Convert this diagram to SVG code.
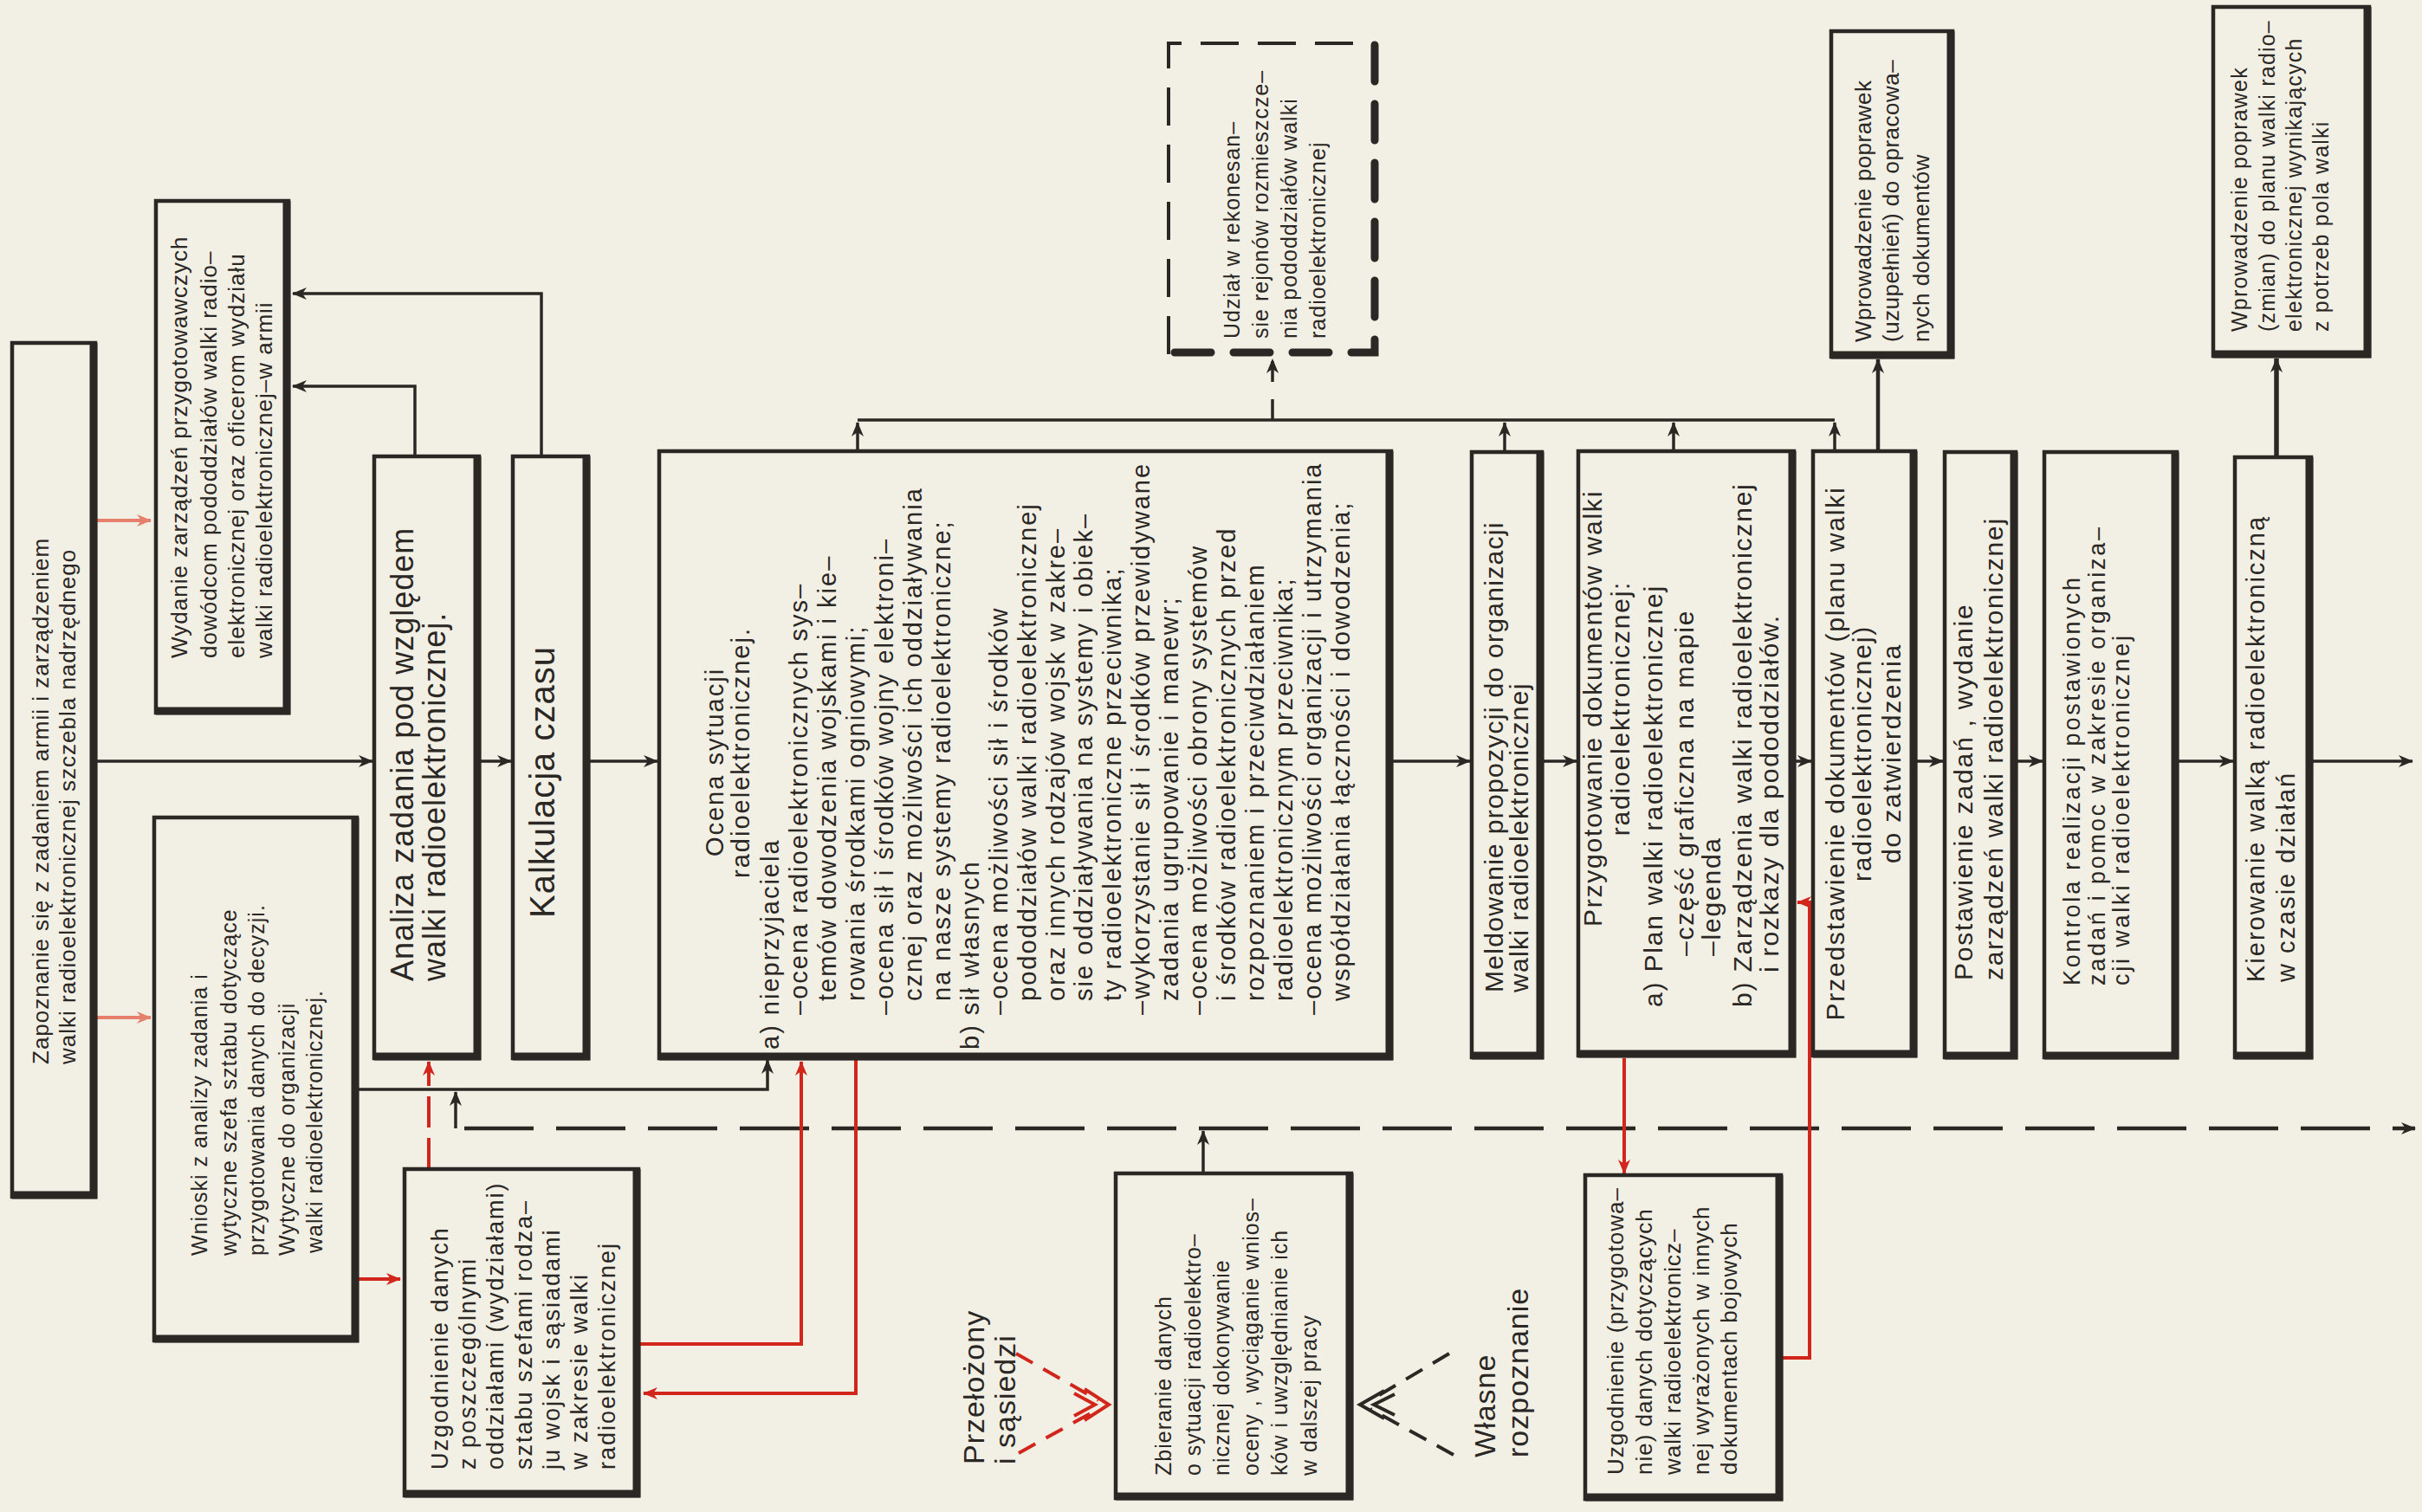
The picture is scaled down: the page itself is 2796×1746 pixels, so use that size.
<svg xmlns="http://www.w3.org/2000/svg" width="2796" height="1746" viewBox="0 0 2796 1746">
<defs>
<style>
.bx{fill:none;stroke:#2b2724;stroke-width:4.5}
.sh{fill:none;stroke:#2b2724;stroke-width:9}
.ln{fill:none;stroke:#2b2724;stroke-width:3.5}
.rd{fill:none;stroke:#d2261c;stroke-width:4}
.rl{fill:none;stroke:#e4806c;stroke-width:4}
text{font-family:"Liberation Sans",Arial,sans-serif;fill:#2b2724}
.z{font-size:26px;letter-spacing:1px}
.wn{font-size:25px;letter-spacing:1px}
.an{font-size:36px;letter-spacing:1px}
.ka{font-size:40px;letter-spacing:1px}
.uz{font-size:27px;letter-spacing:2px}
.oc{font-size:29px;letter-spacing:2px}
.me{font-size:30px;letter-spacing:1.3px}
.pr{font-size:30px;letter-spacing:1.8px}
.ko{font-size:27px;letter-spacing:2.8px}
.ki{font-size:29px;letter-spacing:2px}
.wp{font-size:26px;letter-spacing:0.5px}
.w2{font-size:25px;letter-spacing:1.2px}
.u2{font-size:26px;letter-spacing:1px}
.big{font-size:34px;letter-spacing:1px}
.mid{text-anchor:middle}
</style>
<marker id="ab" markerUnits="userSpaceOnUse" markerWidth="24" markerHeight="20" viewBox="-20 -10 24 20" refX="0" refY="0" orient="auto"><path d="M1,0 L-16,-7 L-11,0 L-16,7 Z" fill="#2b2724"/></marker>
<marker id="ar" markerUnits="userSpaceOnUse" markerWidth="24" markerHeight="20" viewBox="-20 -10 24 20" refX="0" refY="0" orient="auto"><path d="M1,0 L-16,-7 L-11,0 L-16,7 Z" fill="#d2261c"/></marker>
<marker id="as" markerUnits="userSpaceOnUse" markerWidth="24" markerHeight="20" viewBox="-20 -10 24 20" refX="0" refY="0" orient="auto"><path d="M1,0 L-16,-7 L-11,0 L-16,7 Z" fill="#e4806c"/></marker>
</defs>
<rect x="0" y="0" width="2796" height="1746" fill="#f2f0e5"/>

<g id="connectors">
<path class="ln" d="M110,879 H430" marker-end="url(#ab)"/>
<path class="ln" d="M553,879 H590" marker-end="url(#ab)"/>
<path class="ln" d="M679,879 H759" marker-end="url(#ab)"/>
<path class="ln" d="M1606,879 H1697" marker-end="url(#ab)"/>
<path class="ln" d="M1780,879 H1820" marker-end="url(#ab)"/>
<path class="ln" d="M2071,879 H2091" marker-end="url(#ab)"/>
<path class="ln" d="M2211,879 H2243" marker-end="url(#ab)"/>
<path class="ln" d="M2327,879 H2358" marker-end="url(#ab)"/>
<path class="ln" d="M2513,879 H2578" marker-end="url(#ab)"/>
<path class="ln" d="M2668,879 H2785" marker-end="url(#ab)"/>
<path class="ln" d="M625,527 V339 H338" marker-end="url(#ab)"/>
<path class="ln" d="M479,527 V446 H338" marker-end="url(#ab)"/>
<path class="ln" d="M412,1258 H886 V1224" marker-end="url(#ab)"/>
<path class="ln" d="M990,485 H2118"/>
<path class="ln" d="M990,521 V488" marker-end="url(#ab)"/>
<path class="ln" d="M1737,522 V488" marker-end="url(#ab)"/>
<path class="ln" d="M1932,521 V488" marker-end="url(#ab)"/>
<path class="ln" d="M2118,521 V488" marker-end="url(#ab)"/>
<path class="ln" style="stroke-width:4.5" d="M2168,521 V415" marker-end="url(#ab)"/>
<path class="ln" style="stroke-width:5.5" d="M2628,528 V414" marker-end="url(#ab)"/>
<path class="ln" style="stroke-width:4.5;stroke-dasharray:80 26" d="M536,1303 H2788" marker-end="url(#ab)"/>
<path class="ln" d="M526,1303 V1261" marker-end="url(#ab)"/>
<path class="ln" d="M1389,1355 V1306" marker-end="url(#ab)"/>
<path class="ln" style="stroke-dasharray:24 20" d="M1469,485 V415" marker-end="url(#ab)"/>
<path class="rl" d="M112,601 H174" marker-end="url(#as)"/>
<path class="rl" d="M112,1175 H174" marker-end="url(#as)"/>
<path class="rd" d="M414,1477 H462" marker-end="url(#ar)"/>
<path class="rd" style="stroke-dasharray:36 12" d="M495,1350 V1226" marker-end="url(#ar)"/>
<path class="rd" d="M739,1552 H925 V1226" marker-end="url(#ar)"/>
<path class="rd" d="M988,1224 V1609 H743" marker-end="url(#ar)"/>
<path class="rd" d="M1875,1222 V1355" marker-end="url(#ar)"/>
<path class="rd" d="M2058,1568 H2089 V1042 H2075" marker-end="url(#ar)"/>
<path class="rd" style="stroke-dasharray:22 14" d="M1173,1563 L1268,1617 M1176,1678 L1268,1627"/>
<path class="rd" d="M1252,1604 L1280,1622 L1252,1640 M1240,1609 L1264,1622 L1240,1635"/>
<path class="ln" style="stroke-width:4;stroke-dasharray:22 14" d="M1673,1563 L1582,1617 M1678,1680 L1582,1627"/>
<path class="ln" style="stroke-width:4" d="M1598,1606 L1570,1622 L1598,1638 M1610,1610 L1586,1622 L1610,1634"/>
</g>

<g id="zapoznanie">
<rect class="bx" x="14" y="396" width="96" height="986"/>
<path class="sh" d="M108,396 V1380 H14"/>
<text class="z" transform="translate(56,1229) rotate(-90)">Zapoznanie się z zadaniem armii i zarządzeniem</text>
<text class="z" transform="translate(87,1229) rotate(-90)">walki radioelektronicznej szczebla nadrzędnego</text>
</g>

<g id="wydanie">
<rect class="bx" x="180" y="232" width="153" height="591"/>
<path class="sh" d="M331,232 V821 H180"/>
<text class="z" transform="translate(216,760) rotate(-90)">Wydanie zarządzeń przygotowawczych</text>
<text class="z" transform="translate(250,760) rotate(-90)">dowódcom pododdziałów walki radio–</text>
<text class="z" transform="translate(282,760) rotate(-90)">elektronicznej oraz oficerom wydziału</text>
<text class="z" transform="translate(314,760) rotate(-90)">walki radioelektronicznej–w armii</text>
</g>

<g id="analiza">
<rect class="bx" x="432" y="527" width="121" height="695"/>
<path class="sh" d="M551,527 V1220 H432"/>
<text class="an" transform="translate(477,1133) rotate(-90)">Analiza zadania pod względem</text>
<text class="an" transform="translate(514,1133) rotate(-90)">walki radioelektronicznej.</text>
</g>

<g id="kalkulacja">
<rect class="bx" x="592" y="527" width="87" height="695"/>
<path class="sh" d="M677,527 V1220 H592"/>
<text class="ka" transform="translate(640,1060) rotate(-90)">Kalkulacja czasu</text>
</g>

<g id="wnioski">
<rect class="bx" x="178" y="944" width="234" height="604"/>
<path class="sh" d="M410,944 V1546 H178"/>
<text class="wn" transform="translate(239,1450) rotate(-90)">Wnioski z analizy zadania i</text>
<text class="wn" transform="translate(273,1450) rotate(-90)">wytyczne szefa sztabu dotyczące</text>
<text class="wn" transform="translate(305,1450) rotate(-90)">przygotowania danych do decyzji.</text>
<text class="wn" transform="translate(340,1450) rotate(-90)">Wytyczne do organizacji</text>
<text class="wn" transform="translate(372,1447) rotate(-90)">walki radioelektronicznej.</text>
</g>

<g id="uzgodnienie">
<rect class="bx" x="467" y="1350" width="270" height="377"/>
<path class="sh" d="M735,1350 V1725 H467"/>
<text class="uz" transform="translate(517,1697) rotate(-90)">Uzgodnienie danych</text>
<text class="uz" transform="translate(549,1697) rotate(-90)">z poszczególnymi</text>
<text class="uz" transform="translate(581,1697) rotate(-90)">oddziałami (wydziałami)</text>
<text class="uz" transform="translate(614,1697) rotate(-90)">sztabu szefami rodza–</text>
<text class="uz" transform="translate(646,1697) rotate(-90)">ju wojsk i sąsiadami</text>
<text class="uz" transform="translate(678,1697) rotate(-90)">w zakresie walki</text>
<text class="uz" transform="translate(710,1697) rotate(-90)">radioelektronicznej</text>
</g>

<g id="ocena">
<rect class="bx" x="761" y="521" width="845" height="701"/>
<path class="sh" d="M1604,521 V1220 H761"/>
<text class="oc mid" transform="translate(835,880) rotate(-90)">Ocena sytuacji</text>
<text class="oc mid" transform="translate(865,869) rotate(-90)">radioelektronicznej.</text>
<text class="oc" transform="translate(899,1212) rotate(-90)">a) nieprzyjaciela</text>
<text class="oc" transform="translate(932,1172) rotate(-90)">–ocena radioelektronicznych sys–</text>
<text class="oc" transform="translate(965,1156) rotate(-90)">temów dowodzenia wojskami i kie–</text>
<text class="oc" transform="translate(998,1156) rotate(-90)">rowania środkami ogniowymi;</text>
<text class="oc" transform="translate(1031,1172) rotate(-90)">–ocena sił i środków wojny elektroni–</text>
<text class="oc" transform="translate(1064,1156) rotate(-90)">cznej oraz możliwości ich oddziaływania</text>
<text class="oc" transform="translate(1097,1156) rotate(-90)">na nasze systemy radioelektroniczne;</text>
<text class="oc" transform="translate(1130,1212) rotate(-90)">b) sił własnych</text>
<text class="oc" transform="translate(1163,1172) rotate(-90)">–ocena możliwości sił i środków</text>
<text class="oc" transform="translate(1196,1156) rotate(-90)">pododdziałów walki radioelektronicznej</text>
<text class="oc" transform="translate(1229,1156) rotate(-90)">oraz innych rodzajów wojsk w zakre–</text>
<text class="oc" transform="translate(1261,1156) rotate(-90)">sie oddziaływania na systemy i obiek–</text>
<text class="oc" transform="translate(1294,1156) rotate(-90)">ty radioelektroniczne przeciwnika;</text>
<text class="oc" transform="translate(1327,1172) rotate(-90)">–wykorzystanie sił i środków przewidywane</text>
<text class="oc" transform="translate(1360,1156) rotate(-90)">zadania ugrupowanie i manewr;</text>
<text class="oc" transform="translate(1393,1172) rotate(-90)">–ocena możliwości obrony systemów</text>
<text class="oc" transform="translate(1426,1156) rotate(-90)">i środków radioelektronicznych przed</text>
<text class="oc" transform="translate(1459,1156) rotate(-90)">rozpoznaniem i przeciwdziałaniem</text>
<text class="oc" transform="translate(1492,1156) rotate(-90)">radioelektronicznym przeciwnika;</text>
<text class="oc" transform="translate(1525,1172) rotate(-90)">–ocena możliwości organizacji i utrzymania</text>
<text class="oc" transform="translate(1558,1156) rotate(-90)">współdziałania łączności i dowodzenia;</text>
</g>

<g id="udzial">
<path class="ln" style="stroke-width:4;stroke-dasharray:44 22" d="M1349,409 V50 H1589"/>
<path class="ln" style="stroke-width:9;stroke-dasharray:42 26;stroke-linecap:round" d="M1587,52 V407 H1352"/>
<text class="wn" transform="translate(1431,391) rotate(-90)">Udział w rekonesan–</text>
<text class="wn" transform="translate(1464,391) rotate(-90)">sie rejonów rozmieszcze–</text>
<text class="wn" transform="translate(1497,391) rotate(-90)">nia pododdziałów walki</text>
<text class="wn" transform="translate(1530,391) rotate(-90)">radioelektronicznej</text>
</g>

<g id="meldowanie">
<rect class="bx" x="1699" y="522" width="81" height="699"/>
<path class="sh" d="M1778,522 V1219 H1699"/>
<text class="me" transform="translate(1735,1146) rotate(-90)">Meldowanie propozycji do organizacji</text>
<text class="me" transform="translate(1764,1146) rotate(-90)">walki radioelektronicznej</text>
</g>

<g id="przygotowanie">
<rect class="bx" x="1822" y="521" width="249" height="698"/>
<path class="sh" d="M2069,521 V1217 H1822"/>
<text class="pr mid" transform="translate(1849,818) rotate(-90)">Przygotowanie dokumentów walki</text>
<text class="pr mid" transform="translate(1881,818) rotate(-90)">radioelektronicznej:</text>
<text class="pr" transform="translate(1919,1163) rotate(-90)">a) Plan walki radioelektronicznej</text>
<text class="pr" transform="translate(1955,1104) rotate(-90)">–część graficzna na mapie</text>
<text class="pr" transform="translate(1986,1104) rotate(-90)">–legenda</text>
<text class="pr" transform="translate(2022,1163) rotate(-90)">b) Zarządzenia walki radioelektronicznej</text>
<text class="pr" transform="translate(2053,1123) rotate(-90)">i rozkazy dla pododdziałów.</text>
</g>

<g id="przedstawienie">
<rect class="bx" x="2093" y="521" width="118" height="698"/>
<path class="sh" d="M2209,521 V1217 H2093"/>
<text class="pr mid" transform="translate(2129,870) rotate(-90)">Przedstawienie dokumentów (planu walki</text>
<text class="pr mid" transform="translate(2160,870) rotate(-90)">radioelektronicznej)</text>
<text class="pr mid" transform="translate(2194,870) rotate(-90)">do zatwierdzenia</text>
</g>

<g id="wprowadzenie1">
<rect class="bx" x="2114" y="36" width="140" height="376"/>
<path class="sh" d="M2252,36 V410 H2114"/>
<text class="wp" transform="translate(2160,395) rotate(-90)">Wprowadzenie poprawek</text>
<text class="wp" transform="translate(2192,395) rotate(-90)">(uzupełnień) do opracowa–</text>
<text class="wp" transform="translate(2227,395) rotate(-90)">nych dokumentów</text>
</g>

<g id="postawienie">
<rect class="bx" x="2245" y="522" width="82" height="699"/>
<path class="sh" d="M2325,522 V1219 H2245"/>
<text class="pr" transform="translate(2277,1132) rotate(-90)">Postawienie zadań , wydanie</text>
<text class="pr" transform="translate(2312,1132) rotate(-90)">zarządzeń walki radioelektronicznej</text>
</g>

<g id="kontrola">
<rect class="bx" x="2360" y="522" width="153" height="699"/>
<path class="sh" d="M2511,522 V1219 H2360"/>
<text class="ko" transform="translate(2401,1138) rotate(-90)">Kontrola realizacji postawionych</text>
<text class="ko" transform="translate(2430,1138) rotate(-90)">zadań i pomoc w zakresie organiza–</text>
<text class="ko" transform="translate(2458,1138) rotate(-90)">cji walki radioelektronicznej</text>
</g>

<g id="kierowanie">
<rect class="bx" x="2580" y="528" width="88" height="693"/>
<path class="sh" d="M2666,528 V1219 H2580"/>
<text class="ki" transform="translate(2614,1134) rotate(-90)">Kierowanie walką radioelektroniczną</text>
<text class="ki" transform="translate(2649,1134) rotate(-90)">w czasie działań</text>
</g>

<g id="wprowadzenie2">
<rect class="bx" x="2555" y="8" width="180" height="403"/>
<path class="sh" d="M2733,8 V409 H2555"/>
<text class="w2" transform="translate(2594,383) rotate(-90)">Wprowadzenie poprawek</text>
<text class="w2" transform="translate(2626,383) rotate(-90)">(zmian) do planu walki radio–</text>
<text class="w2" transform="translate(2657,383) rotate(-90)">elektronicznej wynikających</text>
<text class="w2" transform="translate(2688,383) rotate(-90)">z potrzeb pola walki</text>
</g>

<g id="zbieranie">
<rect class="bx" x="1288" y="1355" width="272" height="375"/>
<path class="sh" d="M1558,1355 V1728 H1288"/>
<text class="wn" transform="translate(1352,1704) rotate(-90)">Zbieranie danych</text>
<text class="wn" transform="translate(1386,1704) rotate(-90)">o sytuacji radioelektro–</text>
<text class="wn" transform="translate(1419,1704) rotate(-90)">nicznej dokonywanie</text>
<text class="wn" transform="translate(1453,1704) rotate(-90)">oceny , wyciąganie wnios–</text>
<text class="wn" transform="translate(1486,1704) rotate(-90)">ków i uwzględnianie ich</text>
<text class="wn" transform="translate(1520,1704) rotate(-90)">w dalszej pracy</text>
</g>

<g id="uzgodnienie2">
<rect class="bx" x="1830" y="1357" width="226" height="374"/>
<path class="sh" d="M2054,1357 V1729 H1830"/>
<text class="u2" transform="translate(1874,1703) rotate(-90)">Uzgodnienie (przygotowa–</text>
<text class="u2" transform="translate(1907,1703) rotate(-90)">nie) danych dotyczących</text>
<text class="u2" transform="translate(1940,1703) rotate(-90)">walki radioelektronicz–</text>
<text class="u2" transform="translate(1973,1703) rotate(-90)">nej wyrażonych w innych</text>
<text class="u2" transform="translate(2005,1703) rotate(-90)">dokumentach bojowych</text>
</g>

<g id="przelozony">
<text class="big" transform="translate(1136,1691) rotate(-90)">Przełożony</text>
<text class="big" transform="translate(1172,1691) rotate(-90)">i sąsiedzi</text>
</g>

<g id="wlasne">
<text class="big" transform="translate(1726,1683) rotate(-90)">Własne</text>
<text class="big" transform="translate(1764,1683) rotate(-90)">rozpoznanie</text>
</g>
</svg>
